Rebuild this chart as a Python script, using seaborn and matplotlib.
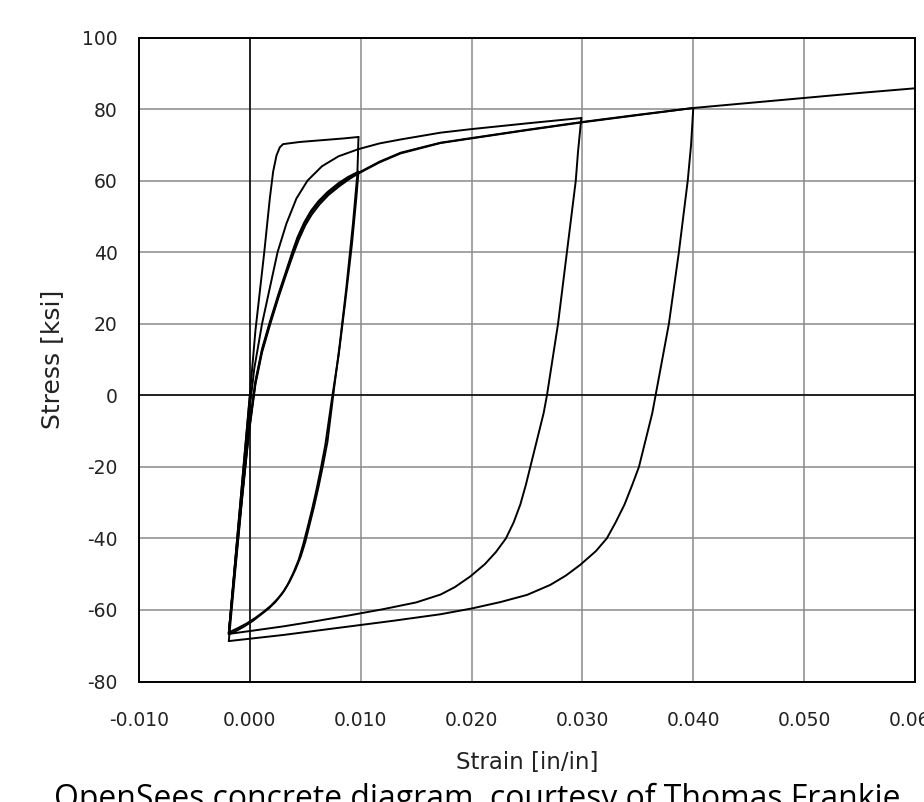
import numpy as np
import pandas as pd
import matplotlib
matplotlib.use("Agg")
import matplotlib.pyplot as plt
import seaborn as sns

# ---------------- data (strain [in/in], stress [ksi]) ----------------
# initial compression excursion
s0_strain = [0.0000, -0.0019]
s0_stress = [0.0, -66.5]
# reload from -0.002 to first peak at 0.010 (sharp yield)
s1_strain = [-0.0019, 0.0000, 0.0005, 0.0013, 0.0018, 0.0021, 0.0024, 0.0027, 0.0030, 0.0045, 0.0065, 0.0085, 0.0098]
s1_stress = [-66.5, 0.0, 18.0, 40.0, 55.0, 62.5, 67.0, 69.3, 70.2, 70.8, 71.3, 71.8, 72.2]
# unload from 0.010 (first)
s2_strain = [0.0098, 0.0097, 0.0093, 0.0087, 0.0081, 0.0076, 0.0070, 0.0066, 0.0062, 0.0058, 0.0054, 0.0050, 0.0046, 0.0041, 0.0036, 0.0031, 0.0025, 0.0019, 0.0012, 0.0005, -0.0003, -0.0011, -0.0019]
s2_stress = [72.2, 62.0, 48.0, 30.0, 14.0, 2.0, -13.0, -19.5, -25.5, -31.0, -36.0, -41.0, -45.0, -48.8, -52.0, -54.6, -56.9, -58.8, -60.6, -62.2, -63.8, -65.1, -66.3]
# reload to 0.010 (second)
s3_strain = [-0.0019, -0.0013, -0.0007, -0.0001, 0.0005, 0.0011, 0.0018, 0.0026, 0.0033, 0.0038, 0.0043, 0.0049, 0.0055, 0.0062, 0.0070, 0.0080, 0.0089, 0.0098]
s3_stress = [-66.3, -47.0, -28.0, -10.0, 4.0, 13.0, 20.5, 28.5, 35.0, 39.8, 44.2, 48.3, 51.5, 54.3, 56.8, 59.3, 61.1, 62.5]
# unload from 0.010 (second)
s4_strain = [0.0098, 0.0096, 0.0092, 0.0086, 0.0080, 0.0074, 0.0068, 0.0064, 0.0060, 0.0056, 0.0052, 0.0048, 0.0044, 0.0039, 0.0034, 0.0029, 0.0023, 0.0017, 0.0010, 0.0003, -0.0005, -0.0012, -0.0019]
s4_stress = [62.5, 55.0, 42.0, 26.0, 11.0, -1.0, -14.0, -20.5, -26.5, -32.0, -37.0, -41.8, -46.0, -49.8, -53.0, -55.5, -57.8, -59.6, -61.3, -63.0, -64.6, -65.8, -66.8]
# reload to 0.030
s5_strain = [-0.0019, -0.0013, -0.0007, -0.0001, 0.0004, 0.0011, 0.0018, 0.0025, 0.0033, 0.0042, 0.0052, 0.0065, 0.0080, 0.0098, 0.0117, 0.0136, 0.0172, 0.0200, 0.0250, 0.0299]
s5_stress = [-66.8, -46.0, -26.0, -6.0, 7.5, 20.0, 30.0, 40.0, 48.0, 55.0, 60.0, 64.0, 66.8, 68.8, 70.4, 71.5, 73.4, 74.4, 76.0, 77.5]
# unload from 0.030
s6_strain = [0.0299, 0.0296, 0.0294, 0.0290, 0.0286, 0.0278, 0.0268, 0.0265, 0.0261, 0.0257, 0.0253, 0.0249, 0.0244, 0.0238, 0.0231, 0.0222, 0.0212, 0.0199, 0.0185, 0.0172, 0.0150, 0.0120, 0.0090, 0.0060, 0.0030, 0.0000, -0.0019]
s6_stress = [77.5, 68.0, 60.0, 50.0, 40.0, 20.0, 0.0, -5.0, -10.0, -15.0, -20.0, -25.0, -30.5, -35.5, -40.0, -43.8, -47.2, -50.6, -53.6, -55.7, -57.9, -59.8, -61.5, -63.1, -64.6, -65.9, -66.7]
# reload to 0.040
s7_strain = [-0.0019, -0.0013, -0.0007, -0.0001, 0.0005, 0.0011, 0.0018, 0.0026, 0.0033, 0.0038, 0.0043, 0.0049, 0.0055, 0.0062, 0.0070, 0.0080, 0.0089, 0.0098, 0.0117, 0.0136, 0.0172, 0.0200, 0.0250, 0.0300, 0.0350, 0.0400]
s7_stress = [-66.7, -47.5, -28.5, -10.5, 3.5, 12.5, 20.0, 28.0, 34.5, 39.3, 43.7, 47.8, 51.0, 53.8, 56.3, 58.8, 60.7, 62.2, 65.3, 67.8, 70.6, 71.9, 74.2, 76.4, 78.4, 80.3]
# unload from 0.040
s8_strain = [0.0400, 0.0398, 0.0395, 0.0391, 0.0387, 0.0378, 0.0366, 0.0363, 0.0359, 0.0355, 0.0351, 0.0345, 0.0338, 0.0330, 0.0322, 0.0312, 0.0298, 0.0285, 0.0271, 0.0250, 0.0226, 0.0200, 0.0172, 0.0130, 0.0080, 0.0030, -0.0019]
s8_stress = [80.3, 70.0, 60.0, 50.0, 40.0, 20.0, 0.0, -5.0, -10.0, -15.0, -20.0, -25.0, -30.5, -35.5, -40.0, -43.6, -47.4, -50.4, -53.0, -55.8, -57.8, -59.6, -61.2, -63.0, -65.0, -67.0, -68.7]
# final reload to 0.060
s9_strain = [-0.0019, -0.0013, -0.0007, -0.0001, 0.0005, 0.0011, 0.0018, 0.0026, 0.0033, 0.0039, 0.0044, 0.0050, 0.0056, 0.0063, 0.0071, 0.0081, 0.0090, 0.0098, 0.0117, 0.0136, 0.0172, 0.0200, 0.0250, 0.0300, 0.0350, 0.0400, 0.0450, 0.0500, 0.0550, 0.0600]
s9_stress = [-68.7, -48.5, -29.0, -11.0, 3.0, 12.0, 19.5, 27.5, 34.0, 39.3, 43.4, 47.5, 50.6, 53.4, 56.0, 58.5, 60.5, 62.0, 65.1, 67.6, 70.5, 71.8, 74.1, 76.3, 78.3, 80.3, 81.7, 83.1, 84.5, 85.8]

x_ticks = [-0.010, 0.000, 0.010, 0.020, 0.030, 0.040, 0.050, 0.060]
x_tick_labels = ["-0.010", "0.000", "0.010", "0.020", "0.030", "0.040", "0.050", "0.060"]
y_ticks = [-80, -60, -40, -20, 0, 20, 40, 60, 80, 100]
y_tick_labels = ["-80", "-60", "-40", "-20", "0", "20", "40", "60", "80", "100"]
x_label = "Strain [in/in]"
y_label = "Stress [ksi]"
caption = "OpenSees concrete diagram, courtesy of Thomas Frankie"

branches = [
    (s0_strain, s0_stress), (s1_strain, s1_stress), (s2_strain, s2_stress),
    (s3_strain, s3_stress), (s4_strain, s4_stress), (s5_strain, s5_stress),
    (s6_strain, s6_stress), (s7_strain, s7_stress), (s8_strain, s8_stress),
    (s9_strain, s9_stress),
]
frames = []
for i, (sx, sy) in enumerate(branches):
    frames.append(pd.DataFrame({"strain": sx, "stress": sy, "branch": i}))
df = pd.concat(frames, ignore_index=True)

# ---------------- figure ----------------
sns.set_style("white")
plt.rcParams["font.family"] = ["DejaVu Sans"]
plt.rcParams["axes.unicode_minus"] = False

W, H = 924, 802
fig = plt.figure(figsize=(W / 100, H / 100), dpi=100)
L, R, T, B = 139, 915, 37.5, 681.5
ax = fig.add_axes([L / W, 1 - B / H, (R - L) / W, (B - T) / H])

ax.set_xlim(-0.010, 0.060)
ax.set_ylim(-80, 100)
ax.set_xticks(x_ticks)
ax.set_xticklabels(x_tick_labels)
ax.set_yticks(y_ticks)
ax.set_yticklabels(y_tick_labels)

ax.grid(True, color="#8a8a8a", lw=1.1)
ax.set_axisbelow(True)
ax.axhline(0, color="black", lw=1.1, zorder=1.5)
ax.axvline(0, color="black", lw=1.1, zorder=1.5)

sns.lineplot(data=df, x="strain", y="stress", units="branch", estimator=None,
             sort=False, color="black", lw=1.4, legend=False, ax=ax, zorder=3)

for sp in ax.spines.values():
    sp.set_visible(True)
    sp.set_color("black")
    sp.set_linewidth(1.4)

ax.tick_params(axis="both", length=0, labelsize=13.5, colors="#222222")
ax.tick_params(axis="x", pad=21.5)
ax.tick_params(axis="y", pad=15.5)

ax.set_xlabel(x_label, fontsize=16.5, color="#222222", va="center")
ax.set_ylabel(y_label, fontsize=18, color="#222222", va="center")
ax.xaxis.set_label_coords(0.5, (B - 762) / (B - T))
ax.yaxis.set_label_coords((52 - L) / (R - L), 0.5)

# caption (partly cut off at the bottom, like the reference)
cap = fig.text(477 / W, (H - 808) / H, caption, ha="center", va="baseline",
               fontsize=22, family=["Open Sans", "DejaVu Sans"], color="black")
fig.canvas.draw()
bb = cap.get_window_extent()
cap.set_fontsize(22 * 845 / bb.width)

fig.savefig("out.png", dpi=100)
